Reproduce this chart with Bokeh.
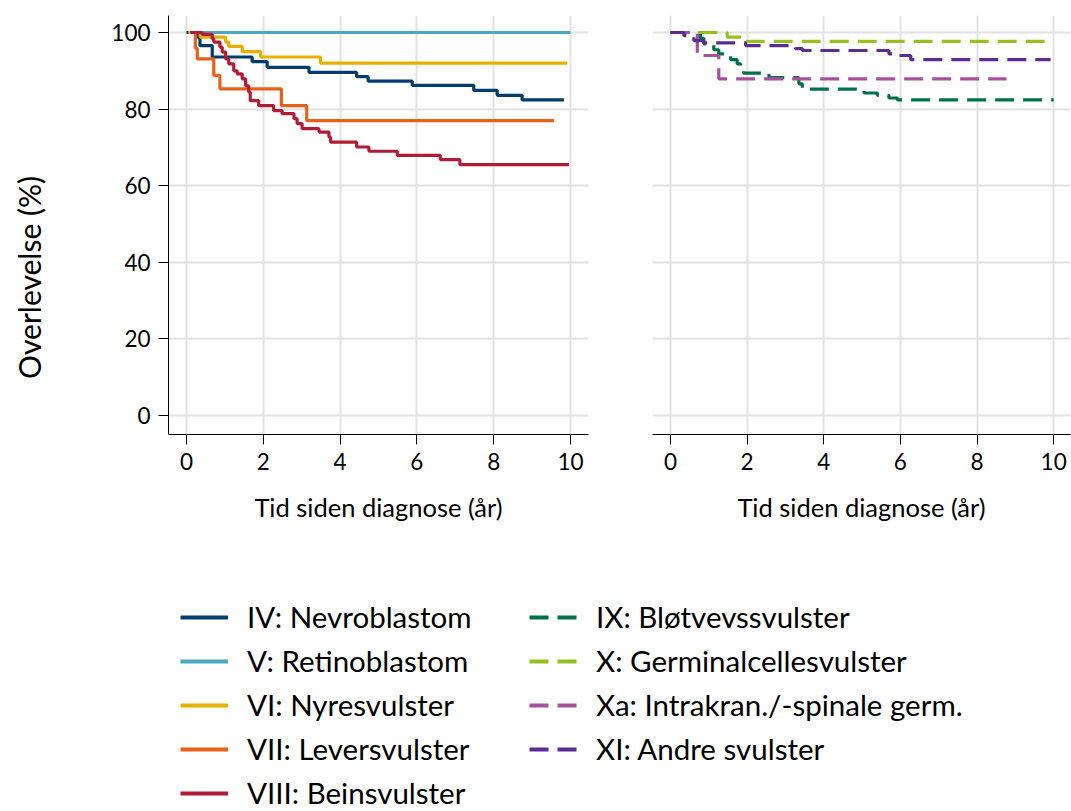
import math
from bokeh.plotting import figure
from bokeh.models import Range1d, Legend, LegendItem, FixedTicker, Label
from bokeh.layouts import column, row
from bokeh.embed import file_html
from bokeh.resources import INLINE

FONT = "Lato"

# ---------------- data ----------------
x_ticks = [0, 2, 4, 6, 8, 10]
y_ticks = [0, 20, 40, 60, 80, 100]
x_title = "Tid siden diagnose (år)"
y_title = "Overlevelse (%)"

# Left panel (solid lines)
nevro_t = [0, 0.30, 0.35, 0.67, 1.71, 2.10, 3.19, 4.43, 4.73, 5.88, 7.48, 8.09, 8.74, 9.83]
nevro_s = [100, 98.7, 96.6, 93.6, 92.4, 90.9, 89.6, 88.5, 87.3, 86.2, 84.9, 83.6, 82.4, 82.4]

retino_t = [0.05, 10.0]
retino_s = [100, 100]

nyre_t = [0.05, 0.36, 1.02, 1.10, 1.45, 1.93, 3.49, 9.91]
nyre_s = [100, 98.8, 97.5, 96.4, 95.0, 93.6, 92.0, 92.0]

lever_t = [0.1, 0.23, 0.28, 0.71, 0.87, 2.47, 3.13, 9.57]
lever_s = [100, 95.9, 93.1, 88.8, 85.3, 80.9, 77.0, 77.0]

bein_t = [0.1, 0.41, 0.67, 0.71, 0.87, 0.93, 1.02, 1.10, 1.23, 1.32, 1.45, 1.54, 1.62, 1.66,
          1.88, 2.27, 2.49, 2.80, 2.88, 3.01, 3.45, 3.71, 3.75, 4.43, 4.75, 5.49, 6.61, 7.12, 9.96]
bein_s = [100, 99.5, 98.4, 97.5, 96.2, 94.9, 93.1, 91.8, 90.0, 89.2, 87.9, 86.1, 84.4, 82.2,
          80.9, 79.6, 78.8, 77.5, 76.2, 74.9, 74.0, 72.7, 71.4, 70.1, 69.0, 67.9, 66.8, 65.5, 65.5]

# Right panel (dashed lines)
blot_t = [0, 0.78, 0.87, 1.13, 1.26, 1.57, 1.74, 1.83, 1.91, 2.57, 3.35, 3.44, 5.05, 5.40, 5.70, 5.92, 10.0]
blot_s = [100, 98.5, 97.0, 95.5, 94.4, 92.9, 91.8, 91.0, 89.4, 88.2, 86.6, 85.2, 84.2, 83.6, 82.9, 82.4, 82.4]

germ_t = [0, 1.48, 1.96, 10.0]
germ_s = [100, 98.8, 97.7, 97.7]

intra_t = [0, 0.70, 1.26, 8.77]
intra_s = [100, 94.0, 87.9, 87.9]

andre_t = [0, 0.35, 0.61, 0.87, 1.96, 3.26, 3.44, 5.70, 5.92, 6.27, 9.92]
andre_s = [100, 99.2, 97.9, 97.3, 96.6, 95.8, 95.3, 94.4, 94.0, 92.9, 92.9]

left_names = ["IV: Nevroblastom", "V: Retinoblastom", "VI: Nyresvulster",
              "VII: Leversvulster", "VIII: Beinsvulster"]
left_colors = ["#003d6b", "#4ba8c0", "#e6b000", "#e8601a", "#b01c35"]
left_series = [(nevro_t, nevro_s), (retino_t, retino_s), (nyre_t, nyre_s),
               (lever_t, lever_s), (bein_t, bein_s)]

right_names = ["IX: Bløtvevssvulster", "X: Germinalcellesvulster",
               "Xa: Intrakran./-spinale germ.", "XI: Andre svulster"]
right_colors = ["#00704a", "#95c11f", "#a6509e", "#5c2d91"]
right_series = [(blot_t, blot_s), (germ_t, germ_s), (intra_t, intra_s), (andre_t, andre_s)]

DASH = "19 9"
LW = 3.2
Y_RANGE = (-4.96, 104.44)


def style_panel(p, show_y):
    p.outline_line_color = None
    p.background_fill_color = "white"
    p.border_fill_color = "white"
    xt = FixedTicker(ticks=x_ticks)
    yt = FixedTicker(ticks=y_ticks)
    p.xaxis.ticker = xt
    p.xgrid.ticker = xt
    p.yaxis.ticker = yt
    p.ygrid.ticker = yt
    for g in (p.xgrid, p.ygrid):
        g.grid_line_color = "#e2e2e2"
        g.grid_line_width = 2
    axes = [p.xaxis[0]] + ([p.yaxis[0]] if show_y else [])
    for ax in axes:
        ax.axis_line_color = "black"
        ax.axis_line_width = 1
        ax.major_tick_line_color = "black"
        ax.major_tick_line_width = 1
        ax.major_tick_out = 10
        ax.major_tick_in = 0
        ax.minor_tick_line_color = None
        ax.major_label_text_font = FONT
        ax.major_label_text_font_size = "22.5px"
        ax.major_label_text_color = "black"
    p.xaxis.major_label_standoff = 8
    p.yaxis.major_label_standoff = 8
    p.xaxis.axis_label = x_title
    p.xaxis.axis_label_text_font = FONT
    p.xaxis.axis_label_text_font_size = "25.5px"
    p.xaxis.axis_label_text_font_style = "normal"
    p.xaxis.axis_label_text_color = "black"
    p.xaxis.axis_label_standoff = 19
    if not show_y:
        p.yaxis.visible = False


# narrow figure carrying the y title (placed lower than frame centre, like the reference)
pt = figure(width=56, height=534, output_backend="svg", toolbar_location=None,
            x_range=Range1d(0, 1), y_range=Range1d(0, 1),
            x_axis_type=None, y_axis_type=None, min_border=0)
pt.outline_line_color = None
pt.add_layout(Label(x=28, y=157, x_units="screen", y_units="screen", text=y_title,
                    angle=math.pi / 2, text_align="center", text_baseline="middle",
                    text_font=FONT, text_font_size="30px", text_color="black"))

p1 = figure(width=564, height=534, output_backend="svg", toolbar_location=None,
            x_range=Range1d(-0.469, 10.469), y_range=Range1d(*Y_RANGE),
            min_border_left=112, min_border_right=32, min_border_top=15, min_border_bottom=100)
style_panel(p1, True)

p2 = figure(width=451, height=534, output_backend="svg", toolbar_location=None,
            x_range=Range1d(-0.47, 10.44), y_range=Range1d(*Y_RANGE),
            min_border_left=32, min_border_right=1, min_border_top=15, min_border_bottom=100)
style_panel(p2, False)

for (t, s), c in zip(left_series, left_colors):
    p1.step(t, s, mode="after", line_color=c, line_width=LW)

for (t, s), c in zip(right_series, right_colors):
    p2.step(t, s, mode="after", line_color=c, line_width=LW, line_dash=DASH)

# ---------------- legend panel ----------------
p3 = figure(width=1071, height=277, output_backend="svg", toolbar_location=None,
            x_range=Range1d(0, 1), y_range=Range1d(0, 1),
            x_axis_type=None, y_axis_type=None, min_border=0)
p3.outline_line_color = None
p3.background_fill_color = "white"
p3.border_fill_color = "white"

# legend-only renderers (hidden; they carry the style for the legend glyphs)
items1 = []
for name, c, (t, s) in zip(left_names, left_colors, left_series):
    r = p3.line(x=t, y=s, line_color=c, line_width=4, visible=False)
    items1.append(LegendItem(label=name, renderers=[r]))
items2 = []
for name, c, (t, s) in zip(right_names, right_colors, right_series):
    r = p3.line(x=t, y=s, line_color=c, line_width=4, line_dash=DASH, visible=False)
    items2.append(LegendItem(label=name, renderers=[r]))


def make_legend(items, loc):
    return Legend(items=items, location=loc, orientation="vertical",
                  padding=0, margin=0, spacing=9,
                  glyph_width=48, glyph_height=30, label_height=30, label_standoff=19,
                  label_text_font=FONT, label_text_font_size="29.5px", label_text_color="black",
                  border_line_color=None, background_fill_alpha=0)


p3.add_layout(make_legend(items1, (180, 1)))
p3.add_layout(make_legend(items2, (529, 45)))

layout = column(row(pt, p1, p2), p3)
open("out.html", "w").write(file_html(layout, INLINE))
